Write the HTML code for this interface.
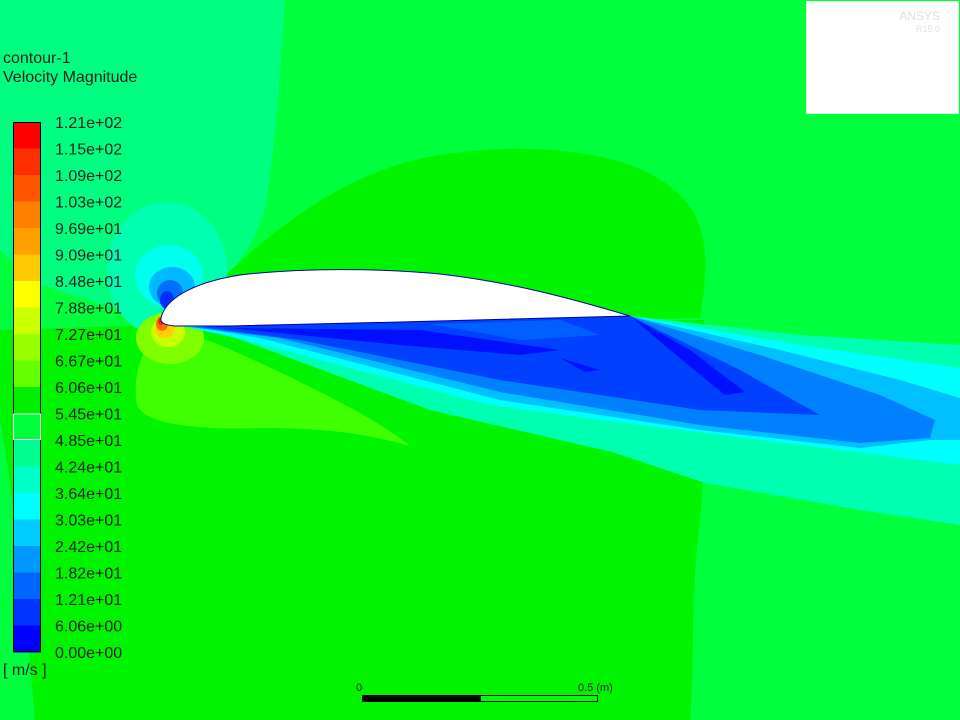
<!DOCTYPE html>
<html><head><meta charset="utf-8"><style>
html,body{margin:0;padding:0;width:960px;height:720px;overflow:hidden;background:#00ff3c}
svg{display:block}
text{font-family:"Liberation Sans",sans-serif}
</style></head><body>
<svg id="s" width="960" height="720" viewBox="0 0 960 720">
<rect width="960" height="720" fill="#00ff3c"/>
<g>
<path d="M0,0 L285,0 C280,80 275,150 265,210 C250,255 225,290 165,318 C120,312 70,295 37,283 L0,250 Z" fill="#00ff80"/>
<path d="M200,300 C260,240 340,170 440,155 C540,140 660,150 695,215 C712,250 704,290 700,318 L160,330 Z" fill="#00f400"/>
<path d="M160,325 L704,320 C700,420 705,480 700,520 C690,600 695,660 690,720 L35,720 C28,640 18,520 0,420 L0,330 Z" fill="#00f400"/>
<path d="M165,325 C140,345 132,380 137,405 C145,425 200,430 260,428 C320,428 360,432 410,446 C380,420 300,380 220,345 Z" fill="#40ff00"/>
<ellipse cx="167" cy="270" rx="60" ry="68" fill="#00ffb0"/>
<ellipse cx="169" cy="276" rx="34" ry="31" fill="#00ffee"/>
<ellipse cx="172" cy="287" rx="23" ry="20" fill="#00b8ff"/>
<ellipse cx="170" cy="293" rx="13" ry="13" fill="#0070ff"/>
<ellipse cx="167" cy="300" rx="7" ry="9" fill="#0030ff"/>
<ellipse cx="170" cy="338" rx="34" ry="26" fill="#80ff00"/>
<ellipse cx="168" cy="332" rx="17" ry="15" fill="#ccff00"/>
<ellipse cx="165" cy="328" rx="10" ry="10" fill="#ffd000"/>
<ellipse cx="162" cy="324" rx="6" ry="7" fill="#ff7000"/>
<ellipse cx="161" cy="321" rx="3" ry="4" fill="#ff2000"/>
<path d="M180,326 L630,316 L800,335 L960,345 L960,525 L860,510 L705,483 L612,452 L430,410 L233,337 Z" fill="#00ffb0"/>
<path d="M190,327 L630,316 L800,345 L960,368 L960,465 L800,445 L600,420 L490,405 L245,340 Z" fill="#00ffff"/>
<path d="M195,327 L630,316 L780,350 L900,380 L960,398 L960,440 L930,440 L860,448 L700,430 L500,400 L260,338 Z" fill="#00c0ff"/>
<path d="M190,327 L630,316 L760,355 L880,395 L935,420 L930,438 L860,443 L700,425 L500,392 L280,338 Z" fill="#0080ff"/>
<path d="M200,327 L630,316 L740,370 L820,415 L700,410 L500,380 L300,340 Z" fill="#0040ff"/>
<path d="M230,328 L420,330 L560,350 L520,355 L400,345 Z M630,316 L690,350 L745,392 L725,395 L670,350 Z M560,358 L600,370 L585,372 Z" fill="#0010ff"/>
<path d="M430,324 L560,320 L600,335 L520,340 Z" fill="#0060ff"/>
</g>
<path d="M161,318 C165,300 190,283 240,275 C300,268 380,268 440,274 C510,282 570,298 630,316 L400,322 L230,326 L175,326 C163,325 160,322 161,318Z" fill="#ffffff" stroke="#0000a0" stroke-width="1"/>
<rect x="806.5" y="1.5" width="152" height="112" fill="#fff" stroke="#e8e8e8"/>
<text x="940" y="20" font-size="12" fill="#e0e0e0" text-anchor="end">ANSYS</text>
<text x="940" y="32" font-size="9" fill="#e0e0e0" text-anchor="end">R15.0</text>
<text x="3" y="63" font-size="16" fill="#202020">contour-1</text>
<text x="3" y="82" font-size="16" fill="#202020">Velocity Magnitude</text>
<g id="cb"></g>
<text x="3" y="675" font-size="16" fill="#202020">[ m/s ]</text>
<g>
<text x="356" y="691" font-size="11" font-family="Liberation Serif" fill="#202020">0</text>
<text x="578" y="691" font-size="11" font-family="Liberation Serif" fill="#202020">0.5 (m)</text>
<rect x="362.5" y="695.5" width="235" height="6" fill="#00ff00" stroke="#000"/>
<rect x="362" y="695" width="119" height="7" fill="#000"/>
</g>
</svg>
<script>
const labels=["1.21e+02","1.15e+02","1.09e+02","1.03e+02","9.69e+01","9.09e+01","8.48e+01","7.88e+01","7.27e+01","6.67e+01","6.06e+01","5.45e+01","4.85e+01","4.24e+01","3.64e+01","3.03e+01","2.42e+01","1.82e+01","1.21e+01","6.06e+00","0.00e+00"];
const colors=["#ff0000","#ff2e00","#ff5500","#ff7f00","#ffa000","#ffc800","#ffff00","#ccff00","#99ff00","#66ff00","#00f000","#00ff3c","#00ff90","#00ffc8","#00ffff","#00ccff","#0099ff","#0066ff","#0033ff","#0000ff"];
const g=document.getElementById('cb');const NS="http://www.w3.org/2000/svg";
const top0=122,bot=652,x0=13,w=28;
function yAt(i){return top0+(bot-top0)*i/colors.length;}
colors.forEach((c,i)=>{const r=document.createElementNS(NS,'rect');
r.setAttribute('x',x0);r.setAttribute('y',yAt(i));r.setAttribute('width',w);r.setAttribute('height',yAt(i+1)-yAt(i)+0.5);
r.setAttribute('fill',c);


g.appendChild(r);});
const o=document.createElementNS(NS,'rect');o.setAttribute('x',x0+0.5);o.setAttribute('y',top0+0.5);o.setAttribute('width',w-1);o.setAttribute('height',bot-top0-1);o.setAttribute('fill','none');o.setAttribute('stroke','#000');


g.appendChild(o);
const hl=document.createElementNS(NS,'rect');hl.setAttribute('x',x0+0.5);hl.setAttribute('y',yAt(11)+0.5);hl.setAttribute('width',w-1);hl.setAttribute('height',yAt(12)-yAt(11)-1);hl.setAttribute('fill','none');hl.setAttribute('stroke','#fff');


g.appendChild(hl);
labels.forEach((l,i)=>{const t=document.createElementNS(NS,'text');t.setAttribute('x',55);t.setAttribute('y',yAt(i)+6);t.setAttribute('font-size','16');t.setAttribute('fill','#202020');t.textContent=l;


g.appendChild(t);});
</script>
</body></html>
